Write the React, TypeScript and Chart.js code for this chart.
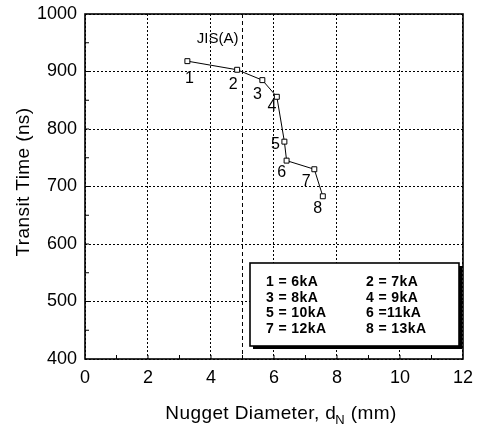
import React, { useEffect, useRef } from "react";
import { Chart, registerables } from "chart.js";

Chart.register(...registerables);

// ---- data ----
const diameters = [3.25, 4.83, 5.63, 6.09, 6.33, 6.4, 7.28, 7.55];
const transitTimes = [918, 903, 885, 856, 778, 745, 730, 683];
const pointLabels = ["1", "2", "3", "4", "5", "6", "7", "8"];
const legendEntries = [
  "1 = 6kA", "2 = 7kA",
  "3 = 8kA", "4 = 9kA",
  "5 = 10kA", "6 =11kA",
  "7 = 12kA", "8 = 13kA",
];
const jisLimit = 5;
const jisLabel = "JIS(A)";
const xRange = [0, 12];
const yRange = [400, 1000];
const xTitleMain = "Nugget Diameter, d";
const xTitleSub = "N";
const xTitleEnd = " (mm)";
const yTitle = "Transit Time (ns)";

// ---- styles ----
const FONT = "Arial, 'Liberation Sans', Helvetica, sans-serif";
const labelOffsets: [number, number][] = [
  [2, 17], [-4, 15], [-5, 14], [-5, 10], [-9, 3], [-5, 12], [-8, 12], [-5, 12],
];

const overlayPlugin = {
  id: "overlay",
  beforeDatasetsDraw(chart: any) {
    const { ctx, chartArea: a, scales } = chart;
    const xs = scales.x;
    const ys = scales.y;
    ctx.save();
    // JIS(A) dashed line
    const jx = xs.getPixelForValue(jisLimit);
    ctx.strokeStyle = "#000";
    ctx.lineWidth = 1;
    ctx.setLineDash([4, 3]);
    ctx.beginPath();
    ctx.moveTo(jx, a.top);
    ctx.lineTo(jx, a.bottom);
    ctx.stroke();
    ctx.setLineDash([]);
    // frame
    ctx.lineWidth = 1.6;
    ctx.strokeRect(a.left, a.top, a.right - a.left, a.bottom - a.top);
    // minor ticks (inward)
    ctx.lineWidth = 1;
    ctx.beginPath();
    for (let v = xRange[0] + 1; v < xRange[1]; v += 1) {
      const px = xs.getPixelForValue(v);
      ctx.moveTo(px, a.bottom);
      ctx.lineTo(px, a.bottom - 4);
    }
    for (let v = yRange[0] + 50; v < yRange[1]; v += 50) {
      const py = ys.getPixelForValue(v);
      ctx.moveTo(a.left, py);
      ctx.lineTo(a.left + 4, py);
    }
    ctx.stroke();
    // JIS label
    ctx.fillStyle = "#000";
    ctx.font = `15px ${FONT}`;
    ctx.textAlign = "right";
    ctx.textBaseline = "middle";
    ctx.fillText(jisLabel, jx - 4, a.top + 25);
    ctx.restore();
  },
  afterDatasetsDraw(chart: any) {
    const { ctx, chartArea: a } = chart;
    const meta = chart.getDatasetMeta(0);
    ctx.save();
    ctx.fillStyle = "#000";
    ctx.font = `16px ${FONT}`;
    ctx.textAlign = "center";
    ctx.textBaseline = "middle";
    meta.data.forEach((pt: any, i: number) => {
      const [dx, dy] = labelOffsets[i];
      ctx.fillText(pointLabels[i], pt.x + dx, pt.y + dy);
    });

    // legend box
    const bx = a.left + 165;
    const by = a.top + 249;
    const bw = 209;
    const bh = 83;
    ctx.fillStyle = "#000";
    ctx.fillRect(bx + 3, by + 3, bw, bh);
    ctx.fillStyle = "#fff";
    ctx.fillRect(bx, by, bw, bh);
    ctx.strokeStyle = "#000";
    ctx.lineWidth = 1.6;
    ctx.strokeRect(bx, by, bw, bh);
    ctx.fillStyle = "#000";
    ctx.font = `bold 14px ${FONT}`;
    (ctx as any).letterSpacing = "0.4px";
    ctx.textAlign = "left";
    legendEntries.forEach((t, i) => {
      const col = i % 2;
      const row = Math.floor(i / 2);
      ctx.fillText(t, bx + 16 + col * 100, by + 19 + row * 15.7);
    });

    // axis titles
    (ctx as any).letterSpacing = "0.4px";
    ctx.textBaseline = "alphabetic";
    ctx.font = `19px ${FONT}`;
    const cx = (a.left + a.right) / 2 + 7;
    const ty = 419;
    const w1 = ctx.measureText(xTitleMain).width;
    ctx.font = `13px ${FONT}`;
    const w2 = ctx.measureText(xTitleSub).width - 1;
    ctx.font = `19px ${FONT}`;
    const w3 = ctx.measureText(xTitleEnd).width;
    const x0 = cx - (w1 + w2 + w3) / 2;
    ctx.textAlign = "left";
    ctx.fillText(xTitleMain, x0, ty);
    ctx.font = `13px ${FONT}`;
    ctx.fillText(xTitleSub, x0 + w1 - 1, ty + 5);
    ctx.font = `19px ${FONT}`;
    ctx.fillText(xTitleEnd, x0 + w1 + w2, ty);

    ctx.translate(24, 182);
    ctx.rotate(-Math.PI / 2);
    ctx.textAlign = "center";
    ctx.textBaseline = "middle";
    ctx.fillText(yTitle, 0, 0);
    ctx.restore();
  },
};

export default function App() {
  const ref = useRef<HTMLCanvasElement | null>(null);
  useEffect(() => {
    document.body.style.margin = "0";
    if (!ref.current) return;
    const chart = new Chart(ref.current, {
      type: "scatter",
      data: {
        datasets: [
          {
            data: diameters.map((x, i) => ({ x, y: transitTimes[i] })),
            showLine: true,
            borderColor: "#000",
            borderWidth: 1,
            pointStyle: "rect",
            pointRadius: 3.5,
            pointBackgroundColor: "#fff",
            pointBorderColor: "#000",
            pointBorderWidth: 1,
          },
        ],
      },
      options: {
        responsive: false,
        animation: false,
        layout: { padding: { top: 14, right: 16, left: 0, bottom: 0 } },
        plugins: { legend: { display: false }, tooltip: { enabled: false } },
        scales: {
          x: {
            type: "linear",
            min: xRange[0],
            max: xRange[1],
            ticks: {
              stepSize: 2,
              color: "#000",
              font: { family: FONT, size: 18 },
              padding: 8,
              callback: (v: any) => String(v),
            },
            grid: { color: "#000", lineWidth: 1, drawTicks: false },
            border: { display: false, dash: [2, 2] },
            afterFit: (s: any) => { s.height = 72; },
          },
          y: {
            type: "linear",
            min: yRange[0],
            max: yRange[1],
            ticks: {
              stepSize: 100,
              color: "#000",
              font: { family: FONT, size: 18, lineHeight: 0.6 },
              padding: 8,
              callback: (v: any) => String(v),
            },
            grid: { color: "#000", lineWidth: 1, drawTicks: false },
            border: { display: false, dash: [2, 2] },
            afterFit: (s: any) => { s.width = 85; },
          },
        },
      } as any,
      plugins: [overlayPlugin],
    });
    return () => chart.destroy();
  }, []);
  return <canvas ref={ref} width={481} height={431} style={{ display: "block" }} />;
}
